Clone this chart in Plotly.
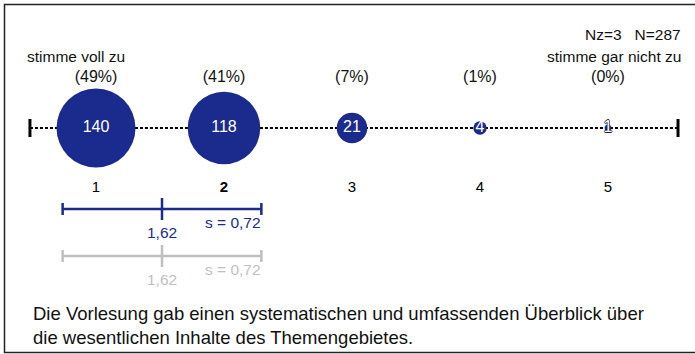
import plotly.graph_objects as go

# Answer scale and response counts
categories = [1, 2, 3, 4, 5]
counts = [140, 118, 21, 4, 1]
percent_labels = ["(49%)", "(41%)", "(7%)", "(1%)", "(0%)"]
category_labels = ["1", "<b>2</b>", "3", "4", "5"]

# Summary statistics (current and comparison)
mean_value = 1.62
sd_value = 0.72
mean_label = "1,62"
sd_label = "s = 0,72"

n_missing = 3
n_total = 287
left_pole = "stimme voll zu"
right_pole = "stimme gar nicht zu"
question = ("Die Vorlesung gab einen systematischen und umfassenden Überblick über<br>"
            "die wesentlichen Inhalte des Themengebietes.")

W, H = 695, 354
BLUE = "#1b2a8d"
GREY = "#bfbfbf"
FONT = "Liberation Sans, Arial, sans-serif"

# main scale: 128 px per step, category 1 at 96 px
x_lo = 1 - 96 / 128
x_hi = x_lo + W / 128
# mean/sd bar scale
bar_lo = 61.56 / 138
bar_hi = (W + 61.56) / 138

axis_ends = [0.484, 5.547]
y_axis_line = 128

fig = go.Figure()

# dashed scale line with end ticks
fig.add_trace(go.Scatter(x=axis_ends, y=[y_axis_line] * 2, mode="lines",
                         line=dict(color="black", width=2, dash="3px,2px"),
                         hoverinfo="skip", showlegend=False))
for xe in axis_ends:
    fig.add_trace(go.Scatter(x=[xe, xe], y=[y_axis_line - 9, y_axis_line + 9], mode="lines",
                             line=dict(color="black", width=3),
                             hoverinfo="skip", showlegend=False))

# bubbles, area proportional to count
max_d = 79
sizeref = 2 * max(counts) / max_d ** 2
fig.add_trace(go.Scatter(x=categories, y=[y_axis_line] * len(categories), mode="markers",
                         marker=dict(size=counts, sizemode="area", sizeref=sizeref,
                                     color=BLUE, opacity=1, line=dict(width=0)),
                         hoverinfo="skip", showlegend=False))

# counts inside bubbles
fig.add_trace(go.Scatter(x=categories[:4], y=[y_axis_line] * 4, mode="text",
                         text=[str(c) for c in counts[:4]], textposition="middle center",
                         textfont=dict(color="white", size=16, family=FONT),
                         hoverinfo="skip", showlegend=False))
# outlined count where the bubble is too small to hold it
fig.add_trace(go.Scatter(x=categories[4:], y=[y_axis_line], mode="text",
                         text=[str(c) for c in counts[4:]], textposition="middle center",
                         textfont=dict(color="white", size=16, family=FONT,
                                       shadow="0.8px 0 0 #222, -0.8px 0 0 #222, "
                                              "0 0.8px 0 #222, 0 -0.8px 0 #222"),
                         hoverinfo="skip", showlegend=False))

# percentages and category numbers
fig.add_trace(go.Scatter(x=categories, y=[78] * 5, mode="text", text=percent_labels,
                         textposition="middle center",
                         textfont=dict(color="#111", size=16, family=FONT),
                         hoverinfo="skip", showlegend=False))
fig.add_trace(go.Scatter(x=categories, y=[188] * 5, mode="text", text=category_labels,
                         textposition="middle center",
                         textfont=dict(color="black", size=15, family=FONT),
                         hoverinfo="skip", showlegend=False))

# mean +/- sd bars on their own scale
for yb, col in [(209, BLUE), (256, GREY)]:
    lo, hi = mean_value - sd_value, mean_value + sd_value
    fig.add_trace(go.Scatter(x=[lo, hi], y=[yb, yb], mode="lines", xaxis="x2",
                             line=dict(color=col, width=2.5), hoverinfo="skip", showlegend=False))
    for xe in (lo, hi):
        fig.add_trace(go.Scatter(x=[xe, xe], y=[yb - 6, yb + 6], mode="lines", xaxis="x2",
                                 line=dict(color=col, width=2.5), hoverinfo="skip", showlegend=False))
    fig.add_trace(go.Scatter(x=[mean_value, mean_value], y=[yb - 11, yb + 11], mode="lines",
                             xaxis="x2", line=dict(color=col, width=2.5),
                             hoverinfo="skip", showlegend=False))
    fig.add_annotation(x=mean_value, y=yb + 23, xref="x2", yref="y", text=mean_label,
                       showarrow=False, xanchor="center", yanchor="middle",
                       font=dict(color=col, size=15.5, family=FONT))
    fig.add_annotation(x=hi, y=yb + 13, xref="x2", yref="y", text=sd_label,
                       showarrow=False, xanchor="right", yanchor="middle", xshift=2,
                       font=dict(color=col, size=15.5, family=FONT))

# header texts
fig.add_annotation(x=683 / W, y=34, xref="paper", yref="y",
                   text=f"Nz={n_missing}&nbsp;&nbsp;&nbsp;N={n_total}", showarrow=False,
                   xanchor="right", yanchor="middle", font=dict(color="#111", size=15.5, family=FONT))
fig.add_annotation(x=25 / W, y=56, xref="paper", yref="y", text=left_pole, showarrow=False,
                   xanchor="left", yanchor="middle", font=dict(color="#111", size=15.5, family=FONT))
fig.add_annotation(x=683 / W, y=56, xref="paper", yref="y", text=right_pole, showarrow=False,
                   xanchor="right", yanchor="middle", font=dict(color="#111", size=15.5, family=FONT))

# question text
fig.add_annotation(x=31 / W, y=325, xref="paper", yref="y", text=question, showarrow=False,
                   xanchor="left", yanchor="middle", align="left",
                   font=dict(color="#111", size=18.5, family=FONT))

# frame
fig.add_shape(type="rect", xref="paper", yref="paper", x0=4.5 / W, x1=1.02,
              y0=1 - 352.5 / H, y1=1 - 4.5 / H, line=dict(color="#222", width=1.5))

fig.update_layout(
    width=W, height=H, margin=dict(l=0, r=0, t=0, b=0),
    paper_bgcolor="white", plot_bgcolor="white",
    xaxis=dict(range=[x_lo, x_hi], visible=False, fixedrange=True),
    xaxis2=dict(range=[bar_lo, bar_hi], overlaying="x", visible=False, fixedrange=True),
    yaxis=dict(range=[H, 0], visible=False, fixedrange=True),
    showlegend=False,
)

fig.write_html("out.html")
